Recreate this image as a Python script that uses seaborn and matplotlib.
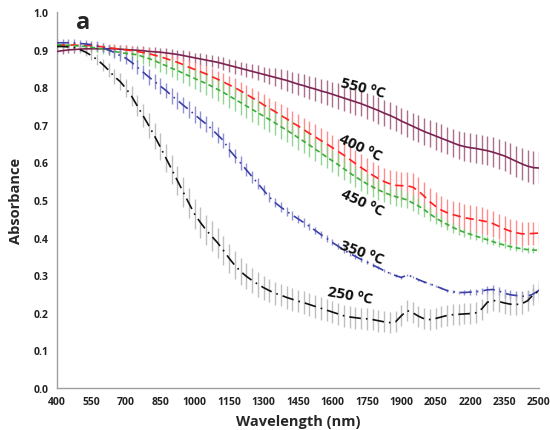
import numpy as np
import pandas as pd
import matplotlib
matplotlib.use("Agg")
import matplotlib.pyplot as plt
import seaborn as sns

# wavelength grid (nm) of the sampled spectra
wl_start, wl_stop, wl_step = 400, 2500, 25

abs_550 = [.895, .897, .899, .900, .901, .902, .902, .902, .902, .902, .902, .901,
           .900, .899, .898, .897, .895, .894, .893, .891, .889, .887, .884, .881,
           .878, .875, .872, .869, .866, .862, .858, .854, .850, .846, .842, .838,
           .834, .830, .826, .822, .818, .813, .808, .804, .799, .795, .790, .786,
           .781, .776, .771, .766, .761, .756, .750, .744, .738, .731, .725, .718,
           .710, .703, .696, .689, .682, .676, .670, .664, .658, .652, .646, .642,
           .639, .637, .634, .631, .627, .622, .617, .610, .603, .596, .590, .586,
           .585]
err_550 = [.008, .008, .008, .008, .008, .009, .009, .009, .009, .010, .010, .010,
           .011, .011, .011, .012, .012, .012, .012, .013, .013, .013, .014, .014,
           .014, .015, .015, .016, .016, .017, .017, .018, .018, .019, .019, .020,
           .020, .022, .024, .026, .027, .028, .029, .030, .030, .031, .032, .033,
           .034, .034, .034, .034, .034, .034, .035, .035, .035, .035, .035, .035,
           .035, .035, .036, .036, .036, .036, .037, .037, .037, .037, .038, .038,
           .038, .039, .039, .039, .040, .040, .040, .041, .041, .042, .042, .043,
           .043]

abs_400 = [.912, .912, .912, .912, .911, .911, .910, .909, .907, .905, .903, .901,
           .899, .897, .895, .892, .889, .885, .881, .876, .871, .866, .860, .853,
           .847, .841, .835, .828, .821, .814, .806, .799, .790, .781, .772, .763,
           .753, .744, .735, .725, .716, .706, .697, .687, .677, .668, .658, .649,
           .639, .629, .619, .608, .597, .586, .576, .566, .557, .549, .543, .539,
           .538, .538, .534, .524, .510, .495, .483, .473, .466, .461, .457, .453,
           .450, .448, .445, .442, .437, .430, .423, .417, .413, .410, .410, .411,
           .412]
err_400 = [.008, .008, .008, .008, .008, .009, .009, .010, .010, .011, .011, .012,
           .012, .013, .013, .014, .014, .015, .016, .016, .017, .018, .018, .019,
           .020, .020, .021, .022, .022, .023, .024, .024, .025, .026, .026, .027,
           .028, .028, .029, .030, .030, .031, .031, .032, .032, .033, .033, .034,
           .034, .034, .035, .035, .035, .035, .036, .036, .036, .036, .036, .037,
           .037, .037, .037, .037, .037, .037, .037, .037, .037, .037, .037, .037,
           .037, .036, .036, .035, .035, .034, .034, .033, .033, .032, .031, .030,
           .030]

abs_450 = [.912, .912, .911, .910, .909, .908, .906, .904, .901, .898, .895, .892,
           .890, .888, .886, .881, .876, .871, .863, .857, .850, .844, .837, .830,
           .823, .816, .810, .802, .794, .786, .777, .768, .759, .750, .741, .732,
           .723, .714, .705, .695, .686, .676, .666, .656, .646, .635, .625, .614,
           .604, .594, .583, .572, .562, .552, .543, .535, .527, .520, .514, .509,
           .505, .500, .492, .484, .474, .463, .452, .443, .435, .427, .420, .414,
           .409, .404, .399, .394, .389, .384, .380, .376, .373, .370, .368, .367,
           .366]
err_450 = [.008, .008, .008, .009, .009, .010, .010, .011, .012, .013, .014, .015,
           .016, .017, .018, .019, .020, .021, .022, .023, .024, .025, .026, .027,
           .028, .029, .030, .030, .031, .031, .032, .032, .033, .033, .033, .033,
           .033, .033, .033, .033, .033, .033, .032, .032, .032, .031, .031, .030,
           .030, .029, .029, .028, .028, .027, .027, .026, .026, .025, .024, .024,
           .023, .022, .021, .020, .019, .018, .017, .016, .015, .014, .013, .012,
           .012, .011, .011, .010, .010, .009, .009, .009, .008, .008, .008, .008,
           .008]

abs_350 = [.918, .918, .918, .917, .916, .915, .913, .910, .905, .899, .892, .884,
           .877, .866, .853, .840, .827, .815, .803, .791, .777, .765, .752, .740,
           .727, .714, .702, .688, .673, .658, .634, .616, .598, .580, .562, .544,
           .526, .508, .493, .481, .470, .460, .450, .440, .430, .419, .408, .398,
           .387, .377, .367, .358, .350, .342, .335, .327, .320, .312, .305, .299,
           .294, .300, .296, .288, .282, .277, .271, .265, .259, .256, .254, .254,
           .255, .256, .258, .261, .262, .258, .252, .248, .246, .244, .244, .250,
           .260]
err_350 = [.010, .010, .010, .010, .010, .011, .011, .012, .012, .013, .014, .015,
           .016, .017, .018, .019, .020, .020, .021, .021, .022, .022, .022, .022,
           .022, .022, .022, .021, .021, .020, .020, .019, .018, .017, .016, .015,
           .014, .014, .013, .013, .012, .012, .011, .011, .010, .010, .009, .009,
           .008, .008, .007, .007, .006, .006, .005, .005, .004, .004, .003, .003,
           .003, .003, .003, .003, .003, .003, .003, .003, .004, .004, .005, .006,
           .007, .008, .009, .010, .011, .011, .012, .012, .013, .013, .014, .016,
           .020]

abs_250 = [.908, .908, .907, .905, .900, .893, .884, .873, .860, .845, .828, .815,
           .797, .776, .750, .724, .698, .670, .641, .611, .581, .551, .521, .491,
           .462, .440, .420, .403, .386, .366, .345, .326, .310, .297, .286, .276,
           .267, .259, .252, .247, .241, .236, .231, .227, .222, .217, .212, .207,
           .202, .197, .192, .189, .187, .185, .184, .182, .179, .176, .174, .176,
           .192, .206, .200, .191, .184, .182, .185, .189, .193, .195, .196, .197,
           .198, .200, .210, .228, .233, .230, .226, .223, .222, .224, .232, .248,
           .258]
err_250 = [.006, .006, .007, .008, .009, .010, .012, .014, .016, .018, .020, .022,
           .024, .026, .028, .030, .032, .034, .036, .037, .038, .039, .040, .040,
           .040, .040, .040, .040, .040, .039, .038, .037, .036, .035, .034, .033,
           .032, .031, .030, .030, .030, .030, .030, .030, .030, .030, .030, .030,
           .030, .030, .030, .030, .029, .029, .029, .029, .029, .028, .028, .028,
           .028, .028, .028, .028, .028, .028, .028, .028, .028, .028, .028, .028,
           .028, .028, .028, .028, .028, .028, .028, .028, .028, .028, .028, .028,
           .028]

series_names = ["550 ºC", "400 ºC", "450 ºC", "350 ºC", "250 ºC"]
x_ticks = list(range(400, 2501, 150))
y_ticks = [0.0, 0.1, 0.2, 0.3, 0.4, 0.5, 0.6, 0.7, 0.8, 0.9, 1.0]

sns.set_theme(style="white")
plt.rcParams['font.family'] = ['Open Sans', 'DejaVu Sans']

wl = np.arange(wl_start, wl_stop + 1, wl_step)
values = [abs_550, abs_400, abs_450, abs_350, abs_250]
errors = [err_550, err_400, err_450, err_350, err_250]
line_colors = ["#7a2352", "#ff2020", "#3aae3a", "#3c40a8", "#111111"]
bar_colors = ["#a4607f", "#ff8080", "#86d086", "#8486d0", "#b8b8b8"]
styles = ["-", (0, (5, 3)), (0, (3, 2)), (0, (7, 3, 1, 3)), (0, (7, 3, 1, 3))]

df = pd.concat([pd.DataFrame({"Wavelength": wl, "Absorbance": v, "err": e, "series": n})
                for v, e, n in zip(values, errors, series_names)], ignore_index=True)

fig = plt.figure(figsize=(5.5, 4.31), dpi=100)
ax = fig.add_axes([0.1036, 0.0974, 0.8764, 0.8726])

# error bars first (lighter), then lines
for name, bc in zip(series_names, bar_colors):
    d = df[df.series == name]
    ax.errorbar(d.Wavelength, d.Absorbance, yerr=d.err, fmt='none',
                ecolor=bc, elinewidth=1.0, alpha=0.9, capsize=0, zorder=2)
for name, lc, ls in zip(series_names, line_colors, styles):
    d = df[df.series == name]
    sns.lineplot(data=d, x="Wavelength", y="Absorbance", color=lc, ax=ax,
                 linewidth=1.2, linestyle=ls, errorbar=None, zorder=3)

ax.set_xlim(400, 2500)
ax.set_ylim(0, 1.0)
ax.set_xticks(x_ticks)
ax.set_xticklabels([str(t) for t in x_ticks])
ax.set_yticks(y_ticks)
ax.set_yticklabels([f"{t:.1f}" for t in y_ticks])
for lab in ax.get_xticklabels() + ax.get_yticklabels():
    lab.set_fontweight("bold")
    lab.set_fontsize(7.5)
    lab.set_color("#222222")

for s in ["top", "right"]:
    ax.spines[s].set_visible(False)
for s in ["left", "bottom"]:
    ax.spines[s].set_color("#a0a0a0")
    ax.spines[s].set_linewidth(1.0)
ax.tick_params(axis="both", which="major", direction="out", length=3,
               width=0.8, color="#a0a0a0", pad=3)

ax.set_xlabel("Wavelength (nm)", fontsize=10.5, fontweight="bold", labelpad=5)
ax.set_ylabel("Absorbance", fontsize=10.5, fontweight="bold", labelpad=8)

# curve labels
label_pos = [(1733, 0.800, -14), (1720, 0.641, -25), (1729, 0.495, -25),
             (1729, 0.362, -20), (1677, 0.247, -10)]
for name, (lx, ly, rot) in zip(series_names, label_pos):
    ax.text(lx, ly, name, fontsize=11, fontweight="bold", rotation=rot,
            ha="center", va="center", color="#111111", zorder=5)

ax.text(0.04, 1.005, "a", transform=ax.transAxes, fontsize=17,
        fontweight="bold", ha="left", va="top")

fig.savefig("out.png", dpi=100)
